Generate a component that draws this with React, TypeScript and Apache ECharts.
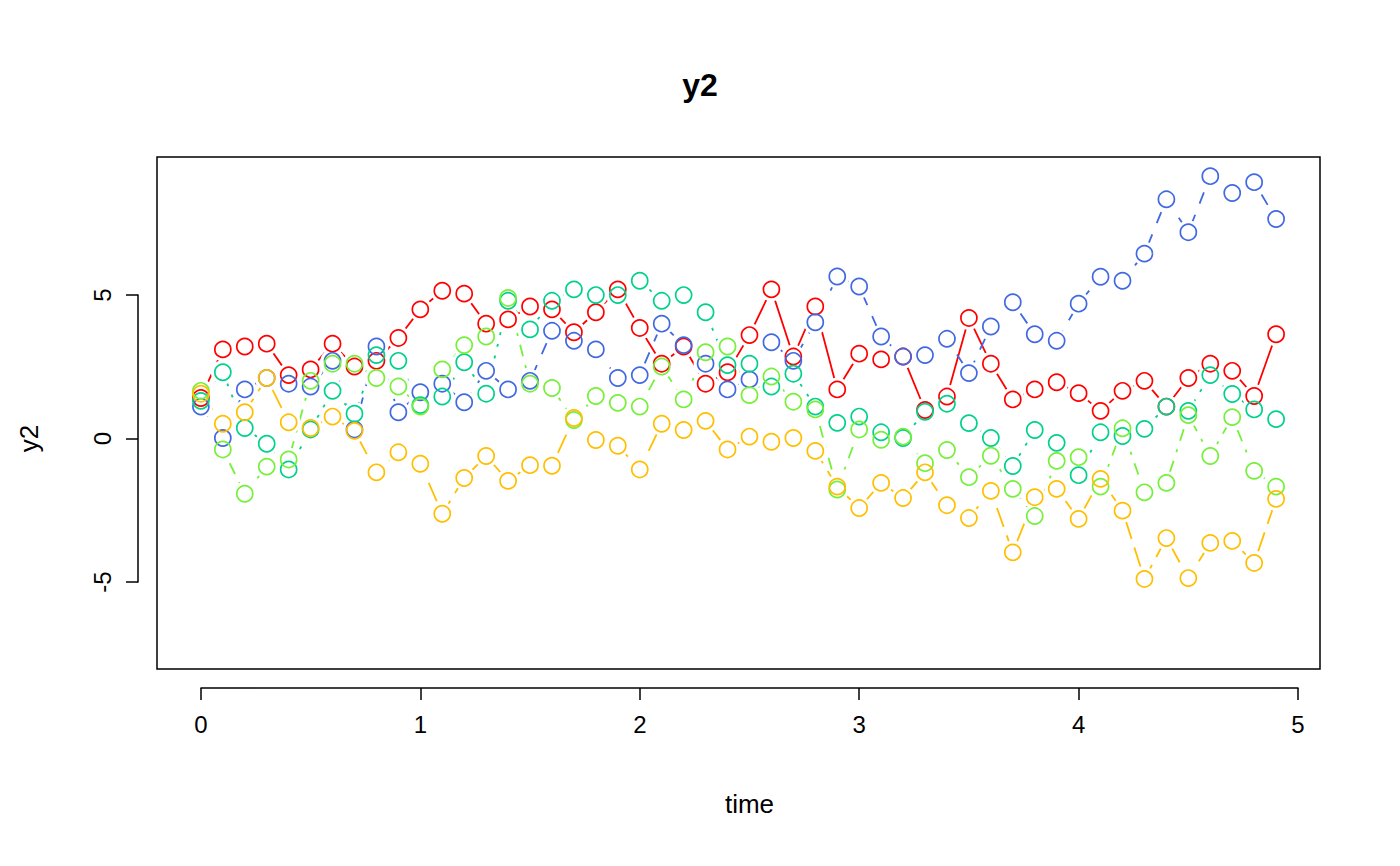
import { useEffect, useRef } from 'react';
import * as echarts from 'echarts';

const time = Array.from({ length: 50 }, (_, i) => +(i / 10).toFixed(1));
const xTicks = [0, 1, 2, 3, 4, 5];
const yTicks = [-5, 0, 5];

const red = [1.4, 3.1, 3.2, 3.3, 2.2, 2.4, 3.3, 2.5, 2.7, 3.5, 4.5, 5.15, 5.05, 4.0, 4.15, 4.6, 4.5, 3.7, 4.4, 5.2,
  3.85, 2.6, 3.2, 1.9, 2.3, 3.6, 5.2, 2.85, 4.6, 1.7, 2.95, 2.75, 2.85, 0.98, 1.45, 4.2, 2.6, 1.35, 1.7, 1.95,
  1.57, 0.95, 1.65, 2.0, 1.1, 2.1, 2.6, 2.35, 1.47, 3.63];
const blue = [1.1, 0.0, 1.7, 2.1, 1.9, 1.8, 2.7, 0.3, 3.2, 0.9, 1.6, 1.9, 1.25, 2.35, 1.7, 2.0, 3.75, 3.4, 3.1, 2.1,
  2.2, 4.0, 3.25, 2.6, 1.7, 2.05, 3.35, 2.7, 4.05, 5.65, 5.3, 3.55, 2.85, 2.9, 3.47, 2.27, 3.9, 4.75, 3.63, 3.4,
  4.7, 5.64, 5.5, 6.45, 8.35, 7.2, 9.16, 8.57, 8.95, 7.66];
const teal = [1.3, 2.3, 0.35, -0.2, -1.1, 0.3, 1.65, 0.85, 2.9, 2.7, 1.15, 1.45, 2.65, 1.55, 4.8, 3.8, 4.8, 5.2, 5.0, 5.0,
  5.5, 4.8, 5.0, 4.4, 2.55, 2.6, 1.8, 2.25, 1.1, 0.53, 0.75, 0.2, 0.0, 0.92, 1.2, 0.52, 0.0, -0.98, 0.28, -0.17,
  -1.3, 0.2, 0.07, 0.32, 1.1, 0.95, 2.2, 1.54, 1.0, 0.66];
const lime = [1.65, -0.4, -1.95, -1.0, -0.75, 2.0, 2.6, 2.6, 2.1, 1.8, 1.1, 2.4, 3.25, 3.55, 4.9, 1.9, 1.75, 0.63, 1.47, 1.23,
  1.1, 2.5, 1.35, 3.0, 3.2, 1.5, 2.15, 1.27, 1.0, -1.8, 0.3, -0.06, 0.05, -0.88, -0.42, -1.37, -0.62, -1.78, -2.73, -0.8,
  -0.67, -1.7, 0.34, -1.9, -1.57, 0.8, -0.63, 0.73, -1.15, -1.7];
const gold = [1.55, 0.5, 0.9, 2.1, 0.55, 0.35, 0.75, 0.25, -1.2, -0.5, -0.9, -2.65, -1.4, -0.63, -1.5, -0.95, -0.97, 0.7, -0.07, -0.27,
  -1.1, 0.5, 0.28, 0.6, -0.4, 0.05, -0.13, 0.0, -0.45, -1.7, -2.45, -1.57, -2.1, -1.2, -2.35, -2.8, -1.85, -4.0, -2.07, -1.78,
  -2.83, -1.43, -2.54, -4.93, -3.5, -4.9, -3.67, -3.6, -4.37, -2.13];

const seriesDefs = [
  { name: 'V1', values: red, color: '#FF0000', dash: 'solid' as any },
  { name: 'V2', values: blue, color: '#4169E1', dash: [12, 12] },
  { name: 'V3', values: teal, color: '#00D18C', dash: [3, 9] },
  { name: 'V4', values: lime, color: '#76F03A', dash: [3, 9, 12, 9] },
  { name: 'V5', values: gold, color: '#FFBF00', dash: [20, 9] },
];

const FONT = '"Liberation Sans", Arial, Helvetica, sans-serif';

export default function App() {
  const ref = useRef<HTMLDivElement>(null);

  useEffect(() => {
    if (!ref.current) return;
    const chart = echarts.init(ref.current, undefined, { renderer: 'svg' });
    const pts = (v: number[]) => v.map((y, i) => [time[i], y]);

    const lines = seriesDefs.map((s) => ({
      name: s.name, type: 'line', xAxisIndex: 0, yAxisIndex: 0, z: 1,
      data: pts(s.values), showSymbol: false, symbol: 'none',
      lineStyle: { color: s.color, width: 1.8, type: s.dash },
    }));
    const masks = seriesDefs.map((s) => ({
      type: 'scatter', xAxisIndex: 0, yAxisIndex: 0, z: 2, silent: true,
      data: pts(s.values), symbol: 'circle', symbolSize: 24,
      itemStyle: { color: '#ffffff', borderWidth: 0, opacity: 1 },
    }));
    const circles = seriesDefs.map((s) => ({
      type: 'scatter', xAxisIndex: 0, yAxisIndex: 0, z: 3,
      data: pts(s.values), symbol: 'circle', symbolSize: 16,
      itemStyle: { color: 'rgba(0,0,0,0)', borderColor: s.color, borderWidth: 1.7, opacity: 1 },
    }));

    chart.setOption({
      animation: false,
      backgroundColor: '#ffffff',
      title: {
        text: 'y2', left: 'center', top: 64,
        textStyle: { fontFamily: FONT, fontSize: 32, fontWeight: 'bold', color: '#000' },
      },
      grid: [
        { left: 157, right: 80, top: 157, bottom: 197, show: true, borderColor: '#000', borderWidth: 1.5, backgroundColor: 'transparent' },
        { left: 201, right: 102, top: 157, bottom: 197 },
        { left: 157, right: 80, top: 295, bottom: 284 },
      ],
      xAxis: [
        { type: 'value', gridIndex: 0, min: -0.2, max: 5.1, show: false },
        {
          type: 'value', gridIndex: 1, min: 0, max: 5, interval: 1, position: 'bottom', offset: 19,
          axisLine: { show: true, onZero: false, lineStyle: { color: '#000', width: 1.5 } },
          axisTick: { show: true, length: 12, lineStyle: { color: '#000', width: 1.5 }, customValues: xTicks },
          axisLabel: { color: '#000', fontSize: 24, fontFamily: FONT, margin: 24, customValues: xTicks },
          splitLine: { show: false },
          name: 'time', nameLocation: 'middle', nameGap: 103,
          nameTextStyle: { color: '#000', fontSize: 26, fontFamily: FONT },
        },
        { type: 'value', gridIndex: 2, min: -0.2, max: 5.1, show: false },
      ],
      yAxis: [
        { type: 'value', gridIndex: 0, min: -8.08, max: 9.83, show: false },
        { type: 'value', gridIndex: 1, min: -8.08, max: 9.83, show: false },
        {
          type: 'value', gridIndex: 2, min: -5, max: 5, interval: 5, position: 'left', offset: 19,
          axisLine: { show: true, onZero: false, lineStyle: { color: '#000', width: 1.5 } },
          axisTick: { show: true, length: 12, lineStyle: { color: '#000', width: 1.5 }, customValues: yTicks },
          axisLabel: { color: '#000', fontSize: 24, fontFamily: FONT, margin: 24, rotate: 90, customValues: yTicks },
          splitLine: { show: false },
          name: 'y2', nameLocation: 'middle', nameGap: 96, nameRotate: 90,
          nameTextStyle: { color: '#000', fontSize: 26, fontFamily: FONT },
        },
      ],
      series: [...lines, ...masks, ...circles],
    });
    return () => chart.dispose();
  }, []);

  return <div ref={ref} style={{ position: 'absolute', left: 0, top: 0, width: 1400, height: 866 }} />;
}
